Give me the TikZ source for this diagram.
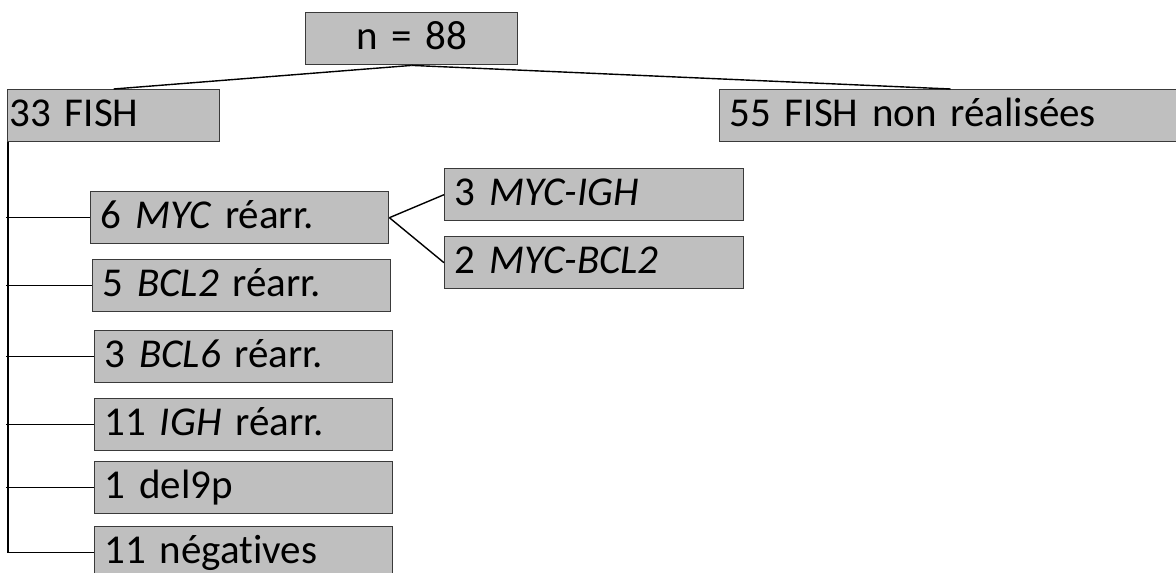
\documentclass[tikz,border=0pt]{standalone}
\usepackage{fontspec}
\setmainfont{Carlito}[Ligatures=CommonOff,WordSpace=0.85]
\usepackage{tikz}

\definecolor{boxfill}{HTML}{BFBFBF}
\definecolor{boxline}{HTML}{3A3A3A}

\begin{document}
\begin{tikzpicture}[x=1pt,y=-1pt,line width=1.4pt]
\tikzstyle{every node}=[draw=boxline,fill=boxfill,anchor=north west,inner xsep=10pt,inner ysep=0pt,minimum height=52pt,text height=28pt,text depth=6pt,align=left,font=\fontsize{41}{46}\selectfont]
\tikzstyle{cas}=[text width=278pt]
\tikzstyle{fus}=[text width=279pt]

\useasboundingbox (0,0) rectangle (1176,573);
\clip (0,0) rectangle (1176,573);

\node[text width=192pt,align=center] (total) at (305,12) {n = 88};
\node[text width=208pt,inner xsep=2pt] (fish) at (7,89) {33 FISH};
\node[text width=442pt] (nonfish) at (719,89) {55 FISH non réalisées};

\node[cas] (myc) at (90,191) {6 \textit{MYC} réarr.};
\node[cas] (bcltwo) at (92,259) {5 \textit{BCL2} réarr.};
\node[cas] (bclsix) at (94,330) {3 \textit{BCL6} réarr.};
\node[cas] (igh) at (94,398) {11 \textit{IGH} réarr.};
\node[cas] (del) at (94,461) {1 del9p};
\node[cas] (neg) at (94,526) {11 négatives};

\node[fus] (mycigh) at (444,168) {3 \textit{MYC-IGH}};
\node[fus] (mycbcl) at (444,236) {2 \textit{MYC-BCL2}};

% branches
\draw (total.south) -- (fish.north);
\draw (total.south) -- (nonfish.north);

\draw ([xshift=1pt]fish.south west) |- (neg.west);
\foreach \n in {myc,bcltwo,bclsix,igh,del}
  \draw ([xshift=-1pt]fish.south west |- \n.west) -- (\n.west);

\draw (myc.east) -- (mycigh.west);
\draw (myc.east) -- (mycbcl.west);
\end{tikzpicture}
\end{document}
